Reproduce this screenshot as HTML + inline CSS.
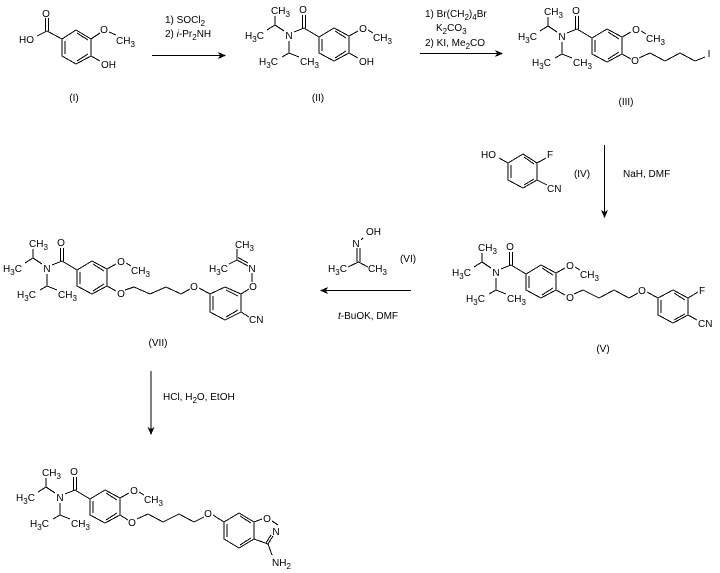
<!DOCTYPE html>
<html>
<head>
<meta charset="utf-8">
<style>
html,body{margin:0;padding:0;background:#fff;}
svg{display:block;}
text{font-family:"Liberation Sans",sans-serif;font-size:10px;fill:#000;}
.m{text-anchor:middle;}
.s{font-size:8px;}
path{fill:none;stroke:#000;stroke-width:1;shape-rendering:crispEdges;}
path.h{fill:#000;stroke:none;}
</style>
</head>
<body>
<svg xmlns="http://www.w3.org/2000/svg" width="720" height="573" viewBox="0 0 720 573">
<rect width="720" height="573" fill="#fff"/>

<!-- (I) -->
<path d="M62 39L76 30L91 39V56L76 64L62 56ZM65 41V54M77 33L88 40M77 61L88 54M62 39L47 31L37 36M45.5 31V18M48.5 31V18M91 39L100 33M109 32L116 35M91 56L100 61"/>
<text x="46" y="17" class="m">O</text>
<text x="19" y="43">HO</text>
<text x="104" y="33" class="m">O</text>
<text x="116" y="44">CH<tspan class="s" dy="3">3</tspan></text>
<text x="101" y="68">OH</text>
<text x="74" y="101" class="m">(I)</text>

<!-- arrow 1 -->
<path d="M152 55.5H220"/>
<path class="h" d="M226 55.5L218 52L220 55.5L218 59Z"/>
<text x="165" y="23">1) SOCl<tspan class="s" dy="3">2</tspan></text>
<text x="165" y="37">2) <tspan font-style="italic">i</tspan>-Pr<tspan class="s" dy="3">2</tspan><tspan dy="-3">NH</tspan></text>

<!-- (II) -->
<g id="f2">
<path d="M275 16V25L267 30M275 25L284 31M289 41V53L282 57M289 53L299 57M294 32L304 28L319 37M302.5 28V15M305.5 28V15M319 37L334 28L349 36V53L334 61L319 53ZM322 39V51M335 31L346 38M335 58L346 51M349 36L358 31M368 30L373 33"/>
<text x="271" y="14">CH<tspan class="s" dy="3">3</tspan></text>
<text x="303" y="13" class="m">O</text>
<text x="245" y="39">H<tspan class="s" dy="3">3</tspan><tspan dy="-3">C</tspan></text>
<text x="289" y="39" class="m">N</text>
<text x="363" y="32" class="m">O</text>
<text x="373" y="41">CH<tspan class="s" dy="3">3</tspan></text>
<text x="259" y="65">H<tspan class="s" dy="3">3</tspan><tspan dy="-3">C</tspan></text>
<text x="300" y="65">CH<tspan class="s" dy="3">3</tspan></text>
</g>
<path d="M349 53L358 58"/>
<text x="359" y="65">OH</text>
<text x="318" y="101" class="m">(II)</text>

<!-- arrow 2 -->
<path d="M420 53.5H497"/>
<path class="h" d="M503 53.5L495 50L497 53.5L495 57Z"/>
<text x="425" y="17">1) Br(CH<tspan class="s" dy="3">2</tspan><tspan dy="-3">)</tspan><tspan class="s" dy="3">4</tspan><tspan dy="-3">Br</tspan></text>
<text x="436" y="31">K<tspan class="s" dy="3">2</tspan><tspan dy="-3">CO</tspan><tspan class="s" dy="3">3</tspan></text>
<text x="425" y="46">2) KI, Me<tspan class="s" dy="3">2</tspan><tspan dy="-3">CO</tspan></text>

<!-- (III) -->
<g transform="translate(273,1)">
<path d="M275 16V25L267 30M275 25L284 31M289 41V53L282 57M289 53L299 57M294 32L304 28L319 37M302.5 28V15M305.5 28V15M319 37L334 28L349 36V53L334 61L319 53ZM322 39V51M335 31L346 38M335 58L346 51M349 36L358 31M368 30L373 33"/>
<text x="271" y="14">CH<tspan class="s" dy="3">3</tspan></text>
<text x="303" y="13" class="m">O</text>
<text x="245" y="39">H<tspan class="s" dy="3">3</tspan><tspan dy="-3">C</tspan></text>
<text x="289" y="39" class="m">N</text>
<text x="363" y="32" class="m">O</text>
<text x="373" y="41">CH<tspan class="s" dy="3">3</tspan></text>
<text x="259" y="65">H<tspan class="s" dy="3">3</tspan><tspan dy="-3">C</tspan></text>
<text x="300" y="65">CH<tspan class="s" dy="3">3</tspan></text>
</g>
<path d="M622 54L631 59M639 58L650 53L665 61L680 53L695 61L705 57"/>
<text x="635" y="64" class="m">O</text>
<text x="709" y="57" class="m">I</text>
<text x="626" y="105" class="m">(III)</text>

<!-- (IV) -->
<path d="M499 158L508 163L523 154L537 163V180L523 188L508 180V163M511 165V178M524 157L534 164M524 185L534 179M537 163L546 158M537 180L547 185"/>
<text x="481" y="158">HO</text>
<text x="550" y="158" class="m">F</text>
<text x="547" y="192">CN</text>
<text x="582" y="177" class="m">(IV)</text>

<!-- arrow 3 -->
<path d="M604.5 145V212"/>
<path class="h" d="M604.5 218L601 210L604.5 212L608 210Z"/>
<text x="623" y="177">NaH, DMF</text>

<!-- (V) -->
<g transform="translate(207,237)">
<path d="M275 16V25L267 30M275 25L284 31M289 41V53L282 57M289 53L299 57M294 32L304 28L319 37M302.5 28V15M305.5 28V15M319 37L334 28L349 36V53L334 61L319 53ZM322 39V51M335 31L346 38M335 58L346 51M349 36L358 31M368 30L373 33"/>
<text x="271" y="14">CH<tspan class="s" dy="3">3</tspan></text>
<text x="303" y="13" class="m">O</text>
<text x="245" y="39">H<tspan class="s" dy="3">3</tspan><tspan dy="-3">C</tspan></text>
<text x="289" y="39" class="m">N</text>
<text x="363" y="32" class="m">O</text>
<text x="373" y="41">CH<tspan class="s" dy="3">3</tspan></text>
<text x="259" y="65">H<tspan class="s" dy="3">3</tspan><tspan dy="-3">C</tspan></text>
<text x="300" y="65">CH<tspan class="s" dy="3">3</tspan></text>
</g>
<path d="M556 290L565 295M574 294L583 290L599 298L614 290L629 298L638 293M647 292L658 298L673 290L688 298V315L673 323L658 315V298M661 300V313M674 293L685 300M674 320L685 314M688 298L698 292M688 315L697 320"/>
<text x="570" y="301" class="m">O</text>
<text x="642" y="294" class="m">O</text>
<text x="702" y="294" class="m">F</text>
<text x="698" y="327">CN</text>
<text x="603" y="352" class="m">(V)</text>

<!-- (VI) -->
<path d="M357 248V262M360 248V262M358.500 262L348 267M358.500 262L368 267M361 240L363 238"/>
<text x="366" y="235">OH</text>
<text x="356" y="247" class="m">N</text>
<text x="328" y="272">H<tspan class="s" dy="3">3</tspan><tspan dy="-3">C</tspan></text>
<text x="368" y="272">CH<tspan class="s" dy="3">3</tspan></text>
<text x="408" y="262" class="m">(VI)</text>

<!-- arrow 4 -->
<path d="M411 290.500H326"/>
<path class="h" d="M320 290.500L328 287L326 290.500L328 294Z"/>
<text x="338" y="319"><tspan font-style="italic">t</tspan>-BuOK, DMF</text>

<!-- (VII) -->
<g transform="translate(-242,233)">
<path d="M275 16V25L267 30M275 25L284 31M289 41V53L282 57M289 53L299 57M294 32L304 28L319 37M302.5 28V15M305.5 28V15M319 37L334 28L349 36V53L334 61L319 53ZM322 39V51M335 31L346 38M335 58L346 51M349 36L358 31M368 30L373 33"/>
<text x="271" y="14">CH<tspan class="s" dy="3">3</tspan></text>
<text x="303" y="13" class="m">O</text>
<text x="245" y="39">H<tspan class="s" dy="3">3</tspan><tspan dy="-3">C</tspan></text>
<text x="289" y="39" class="m">N</text>
<text x="363" y="32" class="m">O</text>
<text x="373" y="41">CH<tspan class="s" dy="3">3</tspan></text>
<text x="259" y="65">H<tspan class="s" dy="3">3</tspan><tspan dy="-3">C</tspan></text>
<text x="300" y="65">CH<tspan class="s" dy="3">3</tspan></text>
</g>
<path d="M107 286L116 291M125 290L134 287L150 294L166 287L181 294L190 289M199 288L210 294L225 287L241 294V312L225 320L210 312V294M213 296V310M226 290L238 296M226 317L238 310M241 294L249 289M241 312L249 317M252 282V273M237 260V249M237 260L229 264M237 260L248 266M238 257.500L248 263"/>
<text x="121" y="297" class="m">O</text>
<text x="194" y="290" class="m">O</text>
<text x="253" y="290" class="m">O</text>
<text x="252" y="272" class="m">N</text>
<text x="235" y="248">CH<tspan class="s" dy="3">3</tspan></text>
<text x="209" y="272">H<tspan class="s" dy="3">3</tspan><tspan dy="-3">C</tspan></text>
<text x="249" y="323">CN</text>
<text x="158" y="346" class="m">(VII)</text>

<!-- arrow 5 -->
<path d="M151 371V429"/>
<path class="h" d="M151 435L147.500 427L151 429L154.500 427Z"/>
<text x="163" y="400">HCl, H<tspan class="s" dy="3">2</tspan><tspan dy="-3">O, EtOH</tspan></text>

<!-- final product -->
<g transform="translate(-229,462)">
<path d="M275 16V25L267 30M275 25L284 31M289 41V53L282 57M289 53L299 57M294 32L304 28L319 37M302.5 28V15M305.5 28V15M319 37L334 28L349 36V53L334 61L319 53ZM322 39V51M335 31L346 38M335 58L346 51M349 36L358 31M368 30L373 33"/>
<text x="271" y="14">CH<tspan class="s" dy="3">3</tspan></text>
<text x="303" y="13" class="m">O</text>
<text x="245" y="39">H<tspan class="s" dy="3">3</tspan><tspan dy="-3">C</tspan></text>
<text x="289" y="39" class="m">N</text>
<text x="363" y="32" class="m">O</text>
<text x="373" y="41">CH<tspan class="s" dy="3">3</tspan></text>
<text x="259" y="65">H<tspan class="s" dy="3">3</tspan><tspan dy="-3">C</tspan></text>
<text x="300" y="65">CH<tspan class="s" dy="3">3</tspan></text>
</g>
<path d="M120 515L128 520M137 519L148 514L163 522L179 514L194 522L204 517M213 515L224 522L239 513L254 522V539L239 548L224 539V522M227 524V537M240 516L251 523M240 545L251 538M254 522L262 519M254 539L268 544L273 536M266 543L271 535M278 525L272 521M268 544L272 555"/>
<text x="132" y="526" class="m">O</text>
<text x="208" y="517" class="m">O</text>
<text x="267" y="522" class="m">O</text>
<text x="276" y="535" class="m">N</text>
<text x="272" y="566">NH<tspan class="s" dy="3">2</tspan></text>
</svg>
</body>
</html>
